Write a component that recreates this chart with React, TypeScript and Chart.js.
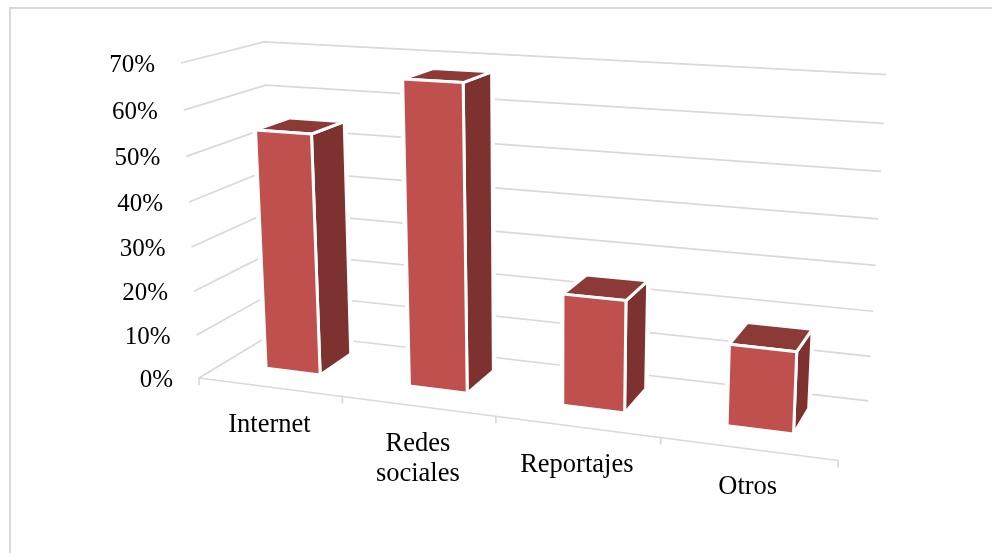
import React, { useEffect, useRef } from "react";
import { Chart, BarController, BarElement, CategoryScale, LinearScale } from "chart.js";

const categories: (string | string[])[] = ["Internet", ["Redes", "sociales"], "Reportajes", "Otros"];
const shares = [54.5, 67.5, 24.5, 17.5];
const axisMax = 70;
const axisStep = 10;

const GRID = "#D9D9D9";
const FRONT = "#C0504D";
const SIDE = "#7E3230";
const TOP = "#8C3A38";
const SERIF = '"Liberation Serif", "Times New Roman", serif';

// Camera of the 3D view: u along categories, h along values, d into the depth (each 0..1).
const project = (u: number, h: number, d: number) => {
  const w = 1 - 0.132 * u - 0.051 * h + 0.084 * d;
  return {
    x: (199 + 528.4 * u - 27.2 * h + 99.1 * d - 2.6 * u * h + 1.9 * d * h) / w,
    y: (378 + 21.7 * u - 318.2 * h - 18.1 * d + 2.1 * u * h + 1.65 * d * h) / w,
  };
};

const path = (ctx: CanvasRenderingContext2D, pts: { x: number; y: number }[], close = false) => {
  ctx.beginPath();
  pts.forEach((p, i) => (i ? ctx.lineTo(p.x, p.y) : ctx.moveTo(p.x, p.y)));
  if (close) ctx.closePath();
};

const BAR_NEAR = 0.31;
const BAR_FAR = 0.75;

class Bar3DController extends BarController {
  static id = "bar3d";
  static defaults = { ...BarController.defaults };
  static overrides = BarController.overrides;
  draw() {
    const chart = this.chart;
    const ctx = chart.ctx;
    const { left, width, bottom, height } = chart.chartArea;
    ctx.save();
    ctx.lineJoin = "round";
    this.getMeta().data.forEach((el: any) => {
      const u0 = (el.x - el.width / 2 - left) / width;
      const u1 = (el.x + el.width / 2 - left) / width;
      const h0 = (bottom - el.base) / height;
      const h1 = (bottom - el.y) / height;
      const a = project(u0, h1, BAR_NEAR);
      const b = project(u1, h1, BAR_NEAR);
      const c = project(u1, h0, BAR_NEAR);
      const e = project(u0, h0, BAR_NEAR);
      const f = project(u1, h1, BAR_FAR);
      const g = project(u1, h0, BAR_FAR);
      const k = project(u0, h1, BAR_FAR);
      ctx.strokeStyle = "#FFFFFF";
      path(ctx, [a, k, f, g, c, e], true);
      ctx.lineWidth = 6;
      ctx.stroke();
      ctx.fillStyle = "#FFFFFF";
      ctx.fill();
      ctx.lineWidth = 3;
      const faces: [{ x: number; y: number }[], string][] = [
        [[b, f, g, c], SIDE],
        [[a, k, f, b], TOP],
        [[a, b, c, e], FRONT],
      ];
      faces.forEach(([pts, color]) => {
        path(ctx, pts, true);
        ctx.fillStyle = color;
        ctx.fill();
        ctx.stroke();
      });
    });
    ctx.restore();
  }
}

const walls = {
  id: "walls",
  beforeDatasetsDraw(chart: any) {
    const { ctx, chartArea, scales } = chart;
    const { bottom, height } = chartArea;
    ctx.save();
    ctx.strokeStyle = GRID;
    ctx.lineWidth = 1.7;
    scales.y.ticks.forEach((t: any) => {
      const h = (bottom - scales.y.getPixelForValue(t.value)) / height;
      path(ctx, [project(0, h, 0), project(0, h, 1), project(1, h, 1)]);
      ctx.stroke();
    });
    path(ctx, [project(0, 0, 0), project(1, 0, 0)]);
    ctx.stroke();
    const n = categories.length;
    for (let i = 0; i <= n; i++) {
      const p = project(i / n, 0, 0);
      path(ctx, [p, { x: p.x, y: p.y + 7 }]);
      ctx.stroke();
    }
    ctx.restore();
  },
};

const labels3d = {
  id: "labels3d",
  afterDatasetsDraw(chart: any) {
    const { ctx, chartArea, scales } = chart;
    const { left, width, bottom, height } = chartArea;
    ctx.save();
    ctx.fillStyle = "#000000";
    ctx.textBaseline = "middle";
    ctx.font = `25px ${SERIF}`;
    ctx.textAlign = "right";
    scales.y.ticks.forEach((t: any) => {
      const h = (bottom - scales.y.getPixelForValue(t.value)) / height;
      const p = project(0, h, 0);
      ctx.fillText(`${t.value}%`, p.x - 26, p.y + 2.5);
    });
    ctx.font = `26.5px ${SERIF}`;
    ctx.textAlign = "center";
    categories.forEach((label, i) => {
      const u = (scales.x.getPixelForValue(i) - left) / width;
      const p = project(u, 0, 0);
      const lines = Array.isArray(label) ? label : [label];
      lines.forEach((line, j) => ctx.fillText(line, p.x, p.y + 38 + j * 29.5));
    });
    ctx.restore();
  },
};

Chart.register(Bar3DController, BarElement, CategoryScale, LinearScale);

export default function App() {
  const ref = useRef<HTMLCanvasElement>(null);
  useEffect(() => {
    const chart = new Chart(ref.current as HTMLCanvasElement, {
      type: "bar3d" as any,
      data: {
        labels: categories as any,
        datasets: [{ data: shares, backgroundColor: FRONT, barPercentage: 0.385, categoryPercentage: 1, clip: false }],
      },
      options: {
        responsive: false,
        animation: false,
        layout: { padding: { left: 199, right: 154, top: 63, bottom: 175 } },
        plugins: { legend: { display: false }, tooltip: { enabled: false } },
        scales: {
          x: { type: "category", display: true, grid: { display: false }, border: { display: false }, ticks: { display: false } },
          y: {
            type: "linear",
            display: true,
            min: 0,
            max: axisMax,
            grid: { display: false },
            border: { display: false },
            ticks: { display: false, stepSize: axisStep },
          },
        },
      } as any,
      plugins: [walls, labels3d],
    });
    return () => chart.destroy();
  }, []);
  return (
    <div style={{ position: "fixed", left: 0, top: 0, width: 992, height: 553, overflow: "hidden", background: "#FFFFFF" }}>
      <canvas ref={ref} width={992} height={553} style={{ position: "absolute", left: 0, top: 0, width: 992, height: 553 }} />
      <div style={{ position: "absolute", left: 9, top: 7, width: 1100, height: 700, borderLeft: `2px solid ${GRID}`, borderTop: `2px solid ${GRID}`, pointerEvents: "none" }} />
    </div>
  );
}
